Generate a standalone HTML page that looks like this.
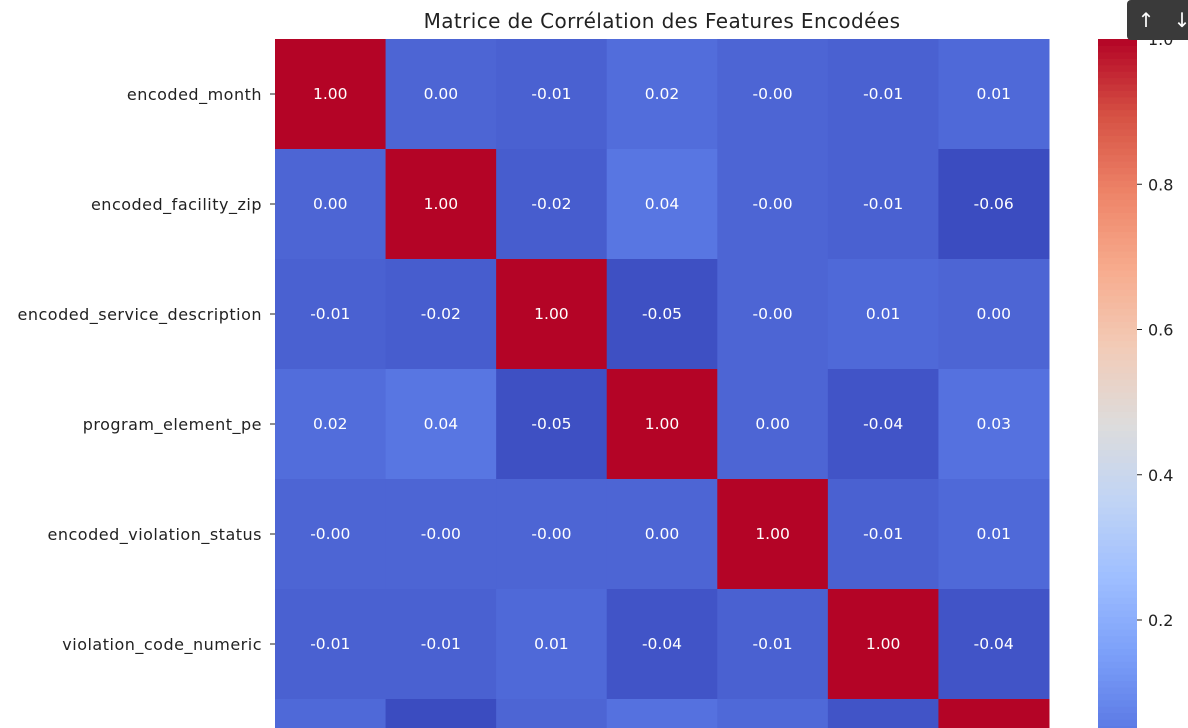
<!DOCTYPE html>
<html><head><meta charset="utf-8"><style>
html,body{margin:0;padding:0;background:#fff;width:1188px;height:728px;overflow:hidden}
svg{display:block;overflow:hidden;font-family:"DejaVu Sans","Liberation Sans",sans-serif}
</style></head><body>
<svg id="chart" width="1188" height="728" viewBox="0 0 1188 728">
<text x="662" y="28" font-size="20" letter-spacing="0.4" text-anchor="middle" fill="#222">Matrice de Corrélation des Features Encodées</text>
<g id="cells"></g><g id="ylabels"></g><g id="cbar"></g>
<g>
<rect x="1127" y="0" width="70" height="40" rx="4" fill="#3a3a3a"/>
<text x="1146" y="27" font-size="20" fill="#fff" text-anchor="middle">↑</text>
<text x="1182" y="27" font-size="20" fill="#fff" text-anchor="middle">↓</text>
</g>
</svg>
<script>
const labels=["encoded_month","encoded_facility_zip","encoded_service_description","program_element_pe","encoded_violation_status","violation_code_numeric","encoded_last"];
const values=[
[1.00,0.00,-0.01,0.02,-0.00,-0.01,0.01],
[0.00,1.00,-0.02,0.04,-0.00,-0.01,-0.06],
[-0.01,-0.02,1.00,-0.05,-0.00,0.01,0.00],
[0.02,0.04,-0.05,1.00,0.00,-0.04,0.03],
[-0.00,-0.00,-0.00,0.00,1.00,-0.01,0.01],
[-0.01,-0.01,0.01,-0.04,-0.01,1.00,-0.04],
[0.01,-0.06,0.00,0.03,0.01,-0.04,1.00]];
const cbTicks=[0.2,0.4,0.6,0.8,1.0];
const vmin=-0.06,vmax=1.0;
const stops=["#3b4cc0","#5a78e4","#7b9ff9","#9ebeff","#c0d4f5","#dddcdc","#f2cbb7","#f7ac8e","#ee8468","#d65244","#b40426"];
function hex(h){return [1,3,5].map(i=>parseInt(h.substr(i,2),16));}
function cmap(v){let t=(v-vmin)/(vmax-vmin);t=Math.max(0,Math.min(1,t));const p=t*10,i=Math.min(9,Math.floor(p)),f=p-i;const a=hex(stops[i]),b=hex(stops[i+1]);return `rgb(${a.map((x,k)=>Math.round(x+(b[k]-x)*f)).join(',')})`;}
const X0=275,CW=(1049-275)/7,Y0=39,RH=110;
const xs=j=>X0+j*CW, ys=i=>Y0+i*RH;
const NS="http://www.w3.org/2000/svg";
function mk(tag,at,par){const e=document.createElementNS(NS,tag);for(const k in at)e.setAttribute(k,at[k]);par.appendChild(e);return e;}
const cells=document.getElementById('cells'),yl=document.getElementById('ylabels'),cb=document.getElementById('cbar');
values.forEach((row,i)=>{row.forEach((v,j)=>{
 const r=mk('rect',{x:xs(j),y:ys(i),width:CW+0.5,height:Math.min(RH+0.5,728-ys(i)),fill:cmap(v)},cells);
 
 
 if(i<6){
 const t=mk('text',{x:xs(j)+CW/2,y:ys(i)+RH/2+5,'font-size':15.5,'text-anchor':'middle',fill:'#fff'},cells);
 t.textContent=(v===0&&1/v<0?"-0.00":v.toFixed(2));
 
 }
});
 if(i<6){
 const l=mk('text',{x:262,y:ys(i)+RH/2+6,'font-size':16,'letter-spacing':0.5,'text-anchor':'end',fill:'#222'},yl);
 l.textContent=labels[i];
 
 
 mk('line',{x1:270,x2:275,y1:ys(i)+RH/2,y2:ys(i)+RH/2,stroke:'#222'},yl);}
});
const cy=v=>39+(1.0-v)*(620-39)/0.8;
const N=120;
for(let k=0;k<N;k++){const v0=vmin+(vmax-vmin)*k/N,v1=vmin+(vmax-vmin)*(k+1)/N;
 const y1=cy(v1),y0=Math.min(728,cy(v0));
 if(y1>=728)continue;
 const r=mk('rect',{x:1098,y:y1,width:39,height:y0-y1+0.6,fill:cmap((v0+v1)/2)},cb);
 
 }
cbTicks.forEach(v=>{
 mk('line',{x1:1137,x2:1142,y1:cy(v),y2:cy(v),stroke:'#222'},cb);
 const t=mk('text',{x:1148,y:cy(v)+6,'font-size':16,fill:'#222'},cb);
 t.textContent=v.toFixed(1);
 
 
});
</script>
</body></html>
